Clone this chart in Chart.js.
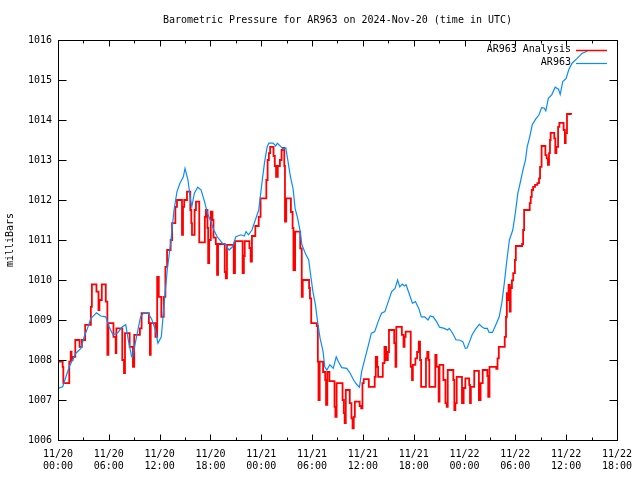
<!DOCTYPE html>
<html>
<head>
<meta charset="utf-8">
<script src="https://cdn.jsdelivr.net/npm/chart.js@4.4.1/dist/chart.umd.min.js"></script>
<style>
html, body { margin: 0; padding: 0; background: #fff; }
</style>
</head>
<body>
<canvas id="graficoPresion" width="640" height="480"></canvas>
<script>
// Datos del grafico
const tituloGrafico = 'Barometric Pressure for AR963 on 2024-Nov-20 (time in UTC)';
const etiquetasSeries = ['AR963 Analysis', 'AR963'];
const coloresSeries = ['#ff0000', '#0a8cff'];
const ticksY = [1006, 1007, 1008, 1009, 1010, 1011, 1012, 1013, 1014, 1015, 1016];
const ticksXHoras = [0, 6, 12, 18, 24, 30, 36, 42, 48, 54, 60, 66];

// AR963 Analysis (horas desde 11/20 00:00 UTC, milibares) - escalonada
const analisisHoras = [
	0, 0.55, 0.63, 1.33, 1.5, 1.6, 1.72, 2.04, 2.55, 2.82, 3.21, 3.88, 4.0, 4.54, 4.78, 4.89,
	5.17, 5.64, 5.83, 5.95, 6.55, 6.81, 6.89, 7.59, 7.79, 7.91, 8.46, 8.85, 9.0, 9.67, 9.87,
	10.73, 10.85, 10.95, 11.5, 11.71, 11.9, 12.2, 12.49, 12.68, 12.88, 13.3, 13.47, 13.86, 14.05,
	14.64, 14.76, 14.9, 15.23, 15.62, 15.74, 15.82, 16.13, 16.29, 16.68, 17.34, 17.46, 17.65,
	17.73, 17.85, 18.04, 18.24, 18.36, 18.63, 18.78, 18.9, 19.69, 19.81, 19.95, 20.75, 20.9,
	21.8, 21.95, 22.05, 22.6, 22.75, 22.9, 23.3, 23.7, 23.92, 24.6, 24.75, 24.9, 25.05, 25.45,
	25.6, 25.75, 25.95, 26.2, 26.4, 26.55, 26.72, 26.8, 26.95, 27.5, 27.7, 27.8, 28.0, 28.6,
	28.78, 28.9, 29.65, 29.75, 29.9, 30.55, 30.68, 30.76, 30.9, 31.3, 31.55, 31.65, 31.8, 32.05,
	32.65, 32.75, 32.9, 33.6, 33.75, 33.85, 33.98, 34.45, 34.65, 34.78, 34.92, 35.05, 35.62,
	35.8, 35.95, 36.1, 36.7, 37.4, 37.52, 37.7, 37.8, 38.35, 38.55, 38.75, 38.95, 39.08, 39.7,
	39.85, 39.95, 40.6, 40.8, 40.92, 41.05, 41.65, 41.8, 41.9, 42.2, 42.4, 42.6, 42.75, 42.88,
	43.45, 43.6, 43.75, 43.85, 44.55, 44.7, 44.95, 45.05, 45.5, 45.75, 45.9, 46.02, 46.68, 46.8,
	46.92, 47.08, 47.7, 47.9, 48.1, 48.55, 48.65, 48.75, 49.15, 49.7, 49.9, 50.15, 50.7, 50.8,
	50.95, 51.75, 51.9, 52.05, 52.75, 52.9, 53.0, 53.1, 53.2, 53.35, 53.45, 53.6, 53.75, 53.95,
	54.06, 54.8, 54.92, 55.04, 55.7, 55.82, 55.94, 56.1, 56.33, 56.6, 56.8, 56.92, 57.1, 57.55,
	57.7, 57.85, 57.98, 58.09, 58.17, 58.6, 58.72, 58.85, 59.05, 59.2, 59.7, 59.85, 59.95, 60.1,
	60.6
];
const analisisValores = [
	1007.96, 1007.83, 1007.42, 1007.96, 1008.21, 1008.0, 1008.08, 1008.5, 1008.33, 1008.5, 1008.88, 1009.33, 1009.89, 1009.71, 1009.25, 1009.5,
	1009.89, 1009.46, 1008.13, 1008.92, 1008.58, 1008.17, 1008.79, 1008.0, 1007.67, 1008.67, 1008.33, 1007.83, 1008.63, 1008.79, 1009.17,
	1008.92, 1008.13, 1008.92, 1008.58, 1010.08, 1009.58, 1009.08, 1009.58, 1010.33, 1010.75, 1011.0, 1011.42, 1011.83, 1012.0,
	1011.13, 1011.83, 1012.0, 1012.21, 1011.75, 1011.42, 1011.13, 1011.75, 1011.96, 1010.94, 1011.58, 1011.75, 1011.3,
	1010.42, 1011.0, 1011.71, 1011.5, 1011.06, 1010.9, 1010.13, 1010.9, 1010.2, 1010.04, 1010.88, 1010.17, 1010.97,
	1010.17, 1010.6, 1010.97, 1010.8, 1010.46, 1011.1, 1011.35, 1011.58, 1012.04, 1012.5, 1013.0, 1013.17, 1013.33, 1013.1,
	1012.85, 1012.58, 1012.85, 1013.0, 1013.25, 1013.3, 1012.85, 1011.46, 1012.04, 1011.7, 1011.3, 1010.25, 1011.21, 1010.79,
	1009.58, 1010.0, 1009.8, 1009.54, 1008.92, 1008.85, 1007.96, 1007.0, 1007.96, 1007.7, 1007.5, 1006.88, 1007.7, 1007.47,
	1006.83, 1006.58, 1007.42, 1007.0, 1006.67, 1006.42, 1007.25, 1006.92, 1006.54, 1006.29, 1006.58, 1006.96, 1006.85,
	1006.79, 1007.42, 1007.52, 1007.33, 1007.58, 1008.08, 1007.83, 1007.58, 1007.92, 1008.33, 1008.0, 1008.2, 1008.75, 1008.42,
	1007.83, 1008.83, 1008.63, 1008.33, 1008.58, 1008.71, 1007.83, 1007.5, 1007.88, 1008.04, 1008.2, 1008.46, 1008.0, 1007.33,
	1008.04, 1008.2, 1008.0, 1007.33, 1008.13, 1007.83, 1006.96, 1007.88, 1007.5, 1006.92, 1006.83, 1007.75, 1007.5, 1006.75,
	1006.92, 1007.58, 1006.92, 1007.3, 1007.54, 1007.38, 1006.92, 1007.33, 1007.73, 1007.0, 1007.42, 1007.75, 1007.6, 1007.08,
	1007.83, 1007.78, 1008.04, 1008.33, 1008.58, 1009.08, 1009.67, 1009.5, 1009.88, 1009.21, 1009.8, 1009.99, 1010.17, 1010.5,
	1010.85, 1010.9, 1011.25, 1011.75, 1011.92, 1012.08, 1012.25, 1012.33, 1012.38, 1012.42, 1012.54, 1012.83, 1013.35, 1013.12,
	1013.04, 1012.88, 1013.17, 1013.5, 1013.68, 1013.54, 1013.17, 1013.33, 1013.83, 1013.93, 1013.75, 1013.42, 1013.67, 1014.15,
	1014.14
];

// AR963 observado
const obsHoras = [
	0, 0.55, 0.94, 1.33, 1.72, 2.11, 2.7, 3.09, 3.48, 3.88, 4.27, 4.54, 5.05, 5.64, 6.03, 6.5,
	7.0, 7.6, 8.0, 8.3, 8.7, 8.8, 9.16, 9.75, 10.1, 10.65, 11.1, 11.5, 11.8, 12.2, 12.5, 12.9,
	13.3, 13.7, 14.05, 14.4, 14.6, 14.8, 15.0, 15.35, 15.6, 15.8, 16.1, 16.5, 16.9, 17.3, 17.65,
	18.05, 18.4, 18.8, 19.4, 19.8, 20.2, 20.6, 21.0, 21.6, 22.0, 22.2, 22.5, 22.9, 23.3, 23.7,
	24.1, 24.4, 24.7, 24.9, 25.4, 25.7, 25.9, 26.35, 26.6, 26.9, 27.1, 27.45, 27.75, 28.0, 28.3,
	28.6, 28.8, 29.2, 29.6, 29.8, 30.1, 30.4, 30.65, 30.95, 31.3, 31.5, 31.75, 32.1, 32.5, 32.85,
	33.1, 33.5, 34.1, 34.5, 34.9, 35.3, 35.6, 35.85, 36.25, 36.6, 37.0, 37.4, 37.8, 38.2, 38.6,
	39.0, 39.4, 39.8, 40.1, 40.35, 40.65, 40.9, 41.1, 41.45, 41.85, 42.2, 42.6, 42.9, 43.3, 43.7,
	43.95, 44.3, 44.7, 45.05, 45.6, 46.0, 46.2, 46.6, 47.0, 47.4, 47.8, 48.1, 48.3, 48.6, 48.9,
	49.3, 49.75, 50.05, 50.35, 50.7, 50.9, 51.3, 51.7, 52.1, 52.4, 52.7, 52.96, 53.3, 53.7, 54.0,
	54.3, 54.65, 54.9, 55.2, 55.4, 55.7, 56.0, 56.4, 56.8, 57.1, 57.4, 57.6, 57.9, 58.3, 58.7,
	59.1, 59.3, 59.6, 60.0, 60.3, 60.7, 61.3, 61.9, 62.5
];
const obsValores = [
	1007.29, 1007.33, 1007.58, 1007.83, 1008.0, 1008.17, 1008.29, 1008.58, 1008.79, 1009.04, 1009.12, 1009.18, 1009.1, 1009.08, 1008.83, 1008.63,
	1008.67, 1008.83, 1008.88, 1008.5, 1008.08, 1008.07, 1008.46, 1009.08, 1009.17, 1009.17, 1009.0, 1008.75, 1008.42, 1008.58, 1009.33, 1010.25,
	1010.92, 1011.75, 1012.21, 1012.42, 1012.5, 1012.58, 1012.79, 1012.5, 1012.08, 1011.83, 1012.17, 1012.32, 1012.25, 1011.96, 1011.67,
	1011.46, 1011.25, 1011.08, 1010.92, 1010.88, 1010.75, 1010.83, 1011.08, 1011.13, 1011.1, 1011.21, 1011.13, 1011.25, 1011.5, 1011.75,
	1012.46, 1012.96, 1013.33, 1013.42, 1013.42, 1013.35, 1013.42, 1013.33, 1013.27, 1013.3, 1013.04, 1012.58, 1012.29, 1011.79, 1011.54,
	1011.21, 1010.88, 1010.67, 1010.5, 1010.17, 1009.71, 1009.38, 1008.96, 1008.54, 1008.21, 1007.83, 1007.75, 1007.88, 1007.79, 1008.08,
	1007.96, 1007.81, 1007.79, 1007.67, 1007.5, 1007.38, 1007.32, 1007.71, 1008.04, 1008.33, 1008.67, 1008.71, 1008.96, 1009.17, 1009.21,
	1009.46, 1009.71, 1009.79, 1010.0, 1009.83, 1009.9, 1009.85, 1009.88, 1009.67, 1009.42, 1009.46, 1009.29, 1009.08, 1009.08, 1009.0,
	1009.1, 1009.08, 1008.96, 1008.82, 1008.79, 1008.75, 1008.79, 1008.67, 1008.5, 1008.5, 1008.46, 1008.29, 1008.3, 1008.46, 1008.63,
	1008.77, 1008.89, 1008.83, 1008.79, 1008.79, 1008.69, 1008.69, 1008.88, 1009.08, 1009.42, 1009.92, 1010.42, 1011.0, 1011.25, 1011.67,
	1012.17, 1012.5, 1012.75, 1013.0, 1013.33, 1013.58, 1013.88, 1014.02, 1014.13, 1014.31, 1014.3, 1014.23, 1014.54, 1014.63, 1014.82,
	1014.77, 1014.64, 1014.96, 1015.04, 1015.25, 1015.42, 1015.54, 1015.67, 1015.72
];

const fuente = '"DejaVu Sans Mono", "Liberation Mono", monospace';

function etiquetaHora(h) {
	const dia = 20 + Math.floor(h / 24);
	const hh = h % 24;
	return ['11/' + dia, String(hh).padStart(2, '0') + ':00'];
}

// Marco, marcas hacia dentro, titulo y leyenda estilo gnuplot
const marcoGnuplot = {
	id: 'marcoGnuplot',
	afterDatasetsDraw(chart) {
		const { ctx, chartArea: a, scales: { x, y } } = chart;
		const L = Math.round(a.left) + 0.5, R = Math.round(a.right) + 0.5;
		const T = Math.round(a.top) + 0.5, B = Math.round(a.bottom) + 0.5;
		ctx.save();
		ctx.strokeStyle = '#000';
		ctx.lineWidth = 1;
		ctx.beginPath();
		ticksXHoras.forEach(v => {
			const px = Math.round(x.getPixelForValue(v)) + 0.5;
			ctx.moveTo(px, B); ctx.lineTo(px, B - 6);
			ctx.moveTo(px, T); ctx.lineTo(px, T + 6);
			if (v < 66) {
				const pm = Math.round(x.getPixelForValue(v + 3)) + 0.5;
				ctx.moveTo(pm, B); ctx.lineTo(pm, B - 3);
				ctx.moveTo(pm, T); ctx.lineTo(pm, T + 3);
			}
		});
		ticksY.forEach(v => {
			const py = Math.round(y.getPixelForValue(v)) + 0.5;
			ctx.moveTo(L, py); ctx.lineTo(L + 8, py);
			ctx.moveTo(R, py); ctx.lineTo(R - 8, py);
		});
		ctx.stroke();
		ctx.strokeRect(L, T, R - L, B - T);

		ctx.fillStyle = '#000';
		ctx.font = '10px ' + fuente;
		ctx.textAlign = 'center';
		ctx.textBaseline = 'middle';
		ctx.fillText(tituloGrafico, (a.left + a.right) / 2, 20);

		ctx.textAlign = 'right';
		chart.data.datasets.forEach((ds, i) => {
			const ly = 49.5 + 13 * i;
			ctx.fillStyle = '#000';
			ctx.fillText(ds.label, a.right - 46, ly);
			ctx.strokeStyle = ds.borderColor;
			ctx.lineWidth = i === 0 ? 1.5 : 1.2;
			ctx.beginPath();
			ctx.moveTo(a.right - 41, Math.round(ly) + 0.5);
			ctx.lineTo(a.right - 10, Math.round(ly) + 0.5);
			ctx.stroke();
		});
		ctx.restore();
	}
};

new Chart(document.getElementById('graficoPresion'), {
	type: 'line',
	data: {
		datasets: [
			{
				label: etiquetasSeries[0],
				data: analisisHoras.map((h, i) => ({ x: h, y: analisisValores[i] })),
				borderColor: coloresSeries[0],
				borderWidth: 1.8,
				stepped: true,
				pointRadius: 0,
				fill: false,
				order: 2
			},
			{
				label: etiquetasSeries[1],
				data: obsHoras.map((h, i) => ({ x: h, y: obsValores[i] })),
				borderColor: coloresSeries[1],
				borderWidth: 1.2,
				tension: 0,
				pointRadius: 0,
				fill: false,
				order: 1
			}
		]
	},
	options: {
		responsive: false,
		animation: false,
		devicePixelRatio: 1,
		layout: { padding: { top: 40, right: 20, left: 0, bottom: 0 } },
		plugins: {
			legend: { display: false },
			title: { display: false },
			tooltip: { enabled: false }
		},
		scales: {
			x: {
				type: 'linear',
				min: 0,
				max: 66,
				afterBuildTicks: s => { s.ticks = ticksXHoras.map(v => ({ value: v })); },
				afterFit: s => { s.height = 40; },
				grid: { display: false, drawTicks: false },
				border: { display: false },
				ticks: {
					autoSkip: false,
					maxRotation: 0,
					padding: 8,
					color: '#000',
					font: { family: fuente, size: 10, lineHeight: 1.2 },
					callback: v => etiquetaHora(v)
				}
			},
			y: {
				min: 1006,
				max: 1016,
				afterBuildTicks: s => { s.ticks = ticksY.map(v => ({ value: v })); },
				afterFit: s => { s.width = 58; },
				grid: { display: false, drawTicks: false },
				border: { display: false },
				ticks: {
					padding: 6,
					color: '#000',
					font: { family: fuente, size: 10 },
					callback: v => String(v)
				},
				title: {
					display: true,
					text: 'milliBars',
					color: '#000',
					padding: { top: 4, bottom: 0 },
					font: { family: fuente, size: 10 }
				}
			}
		}
	},
	plugins: [marcoGnuplot]
});
</script>
</body>
</html>
